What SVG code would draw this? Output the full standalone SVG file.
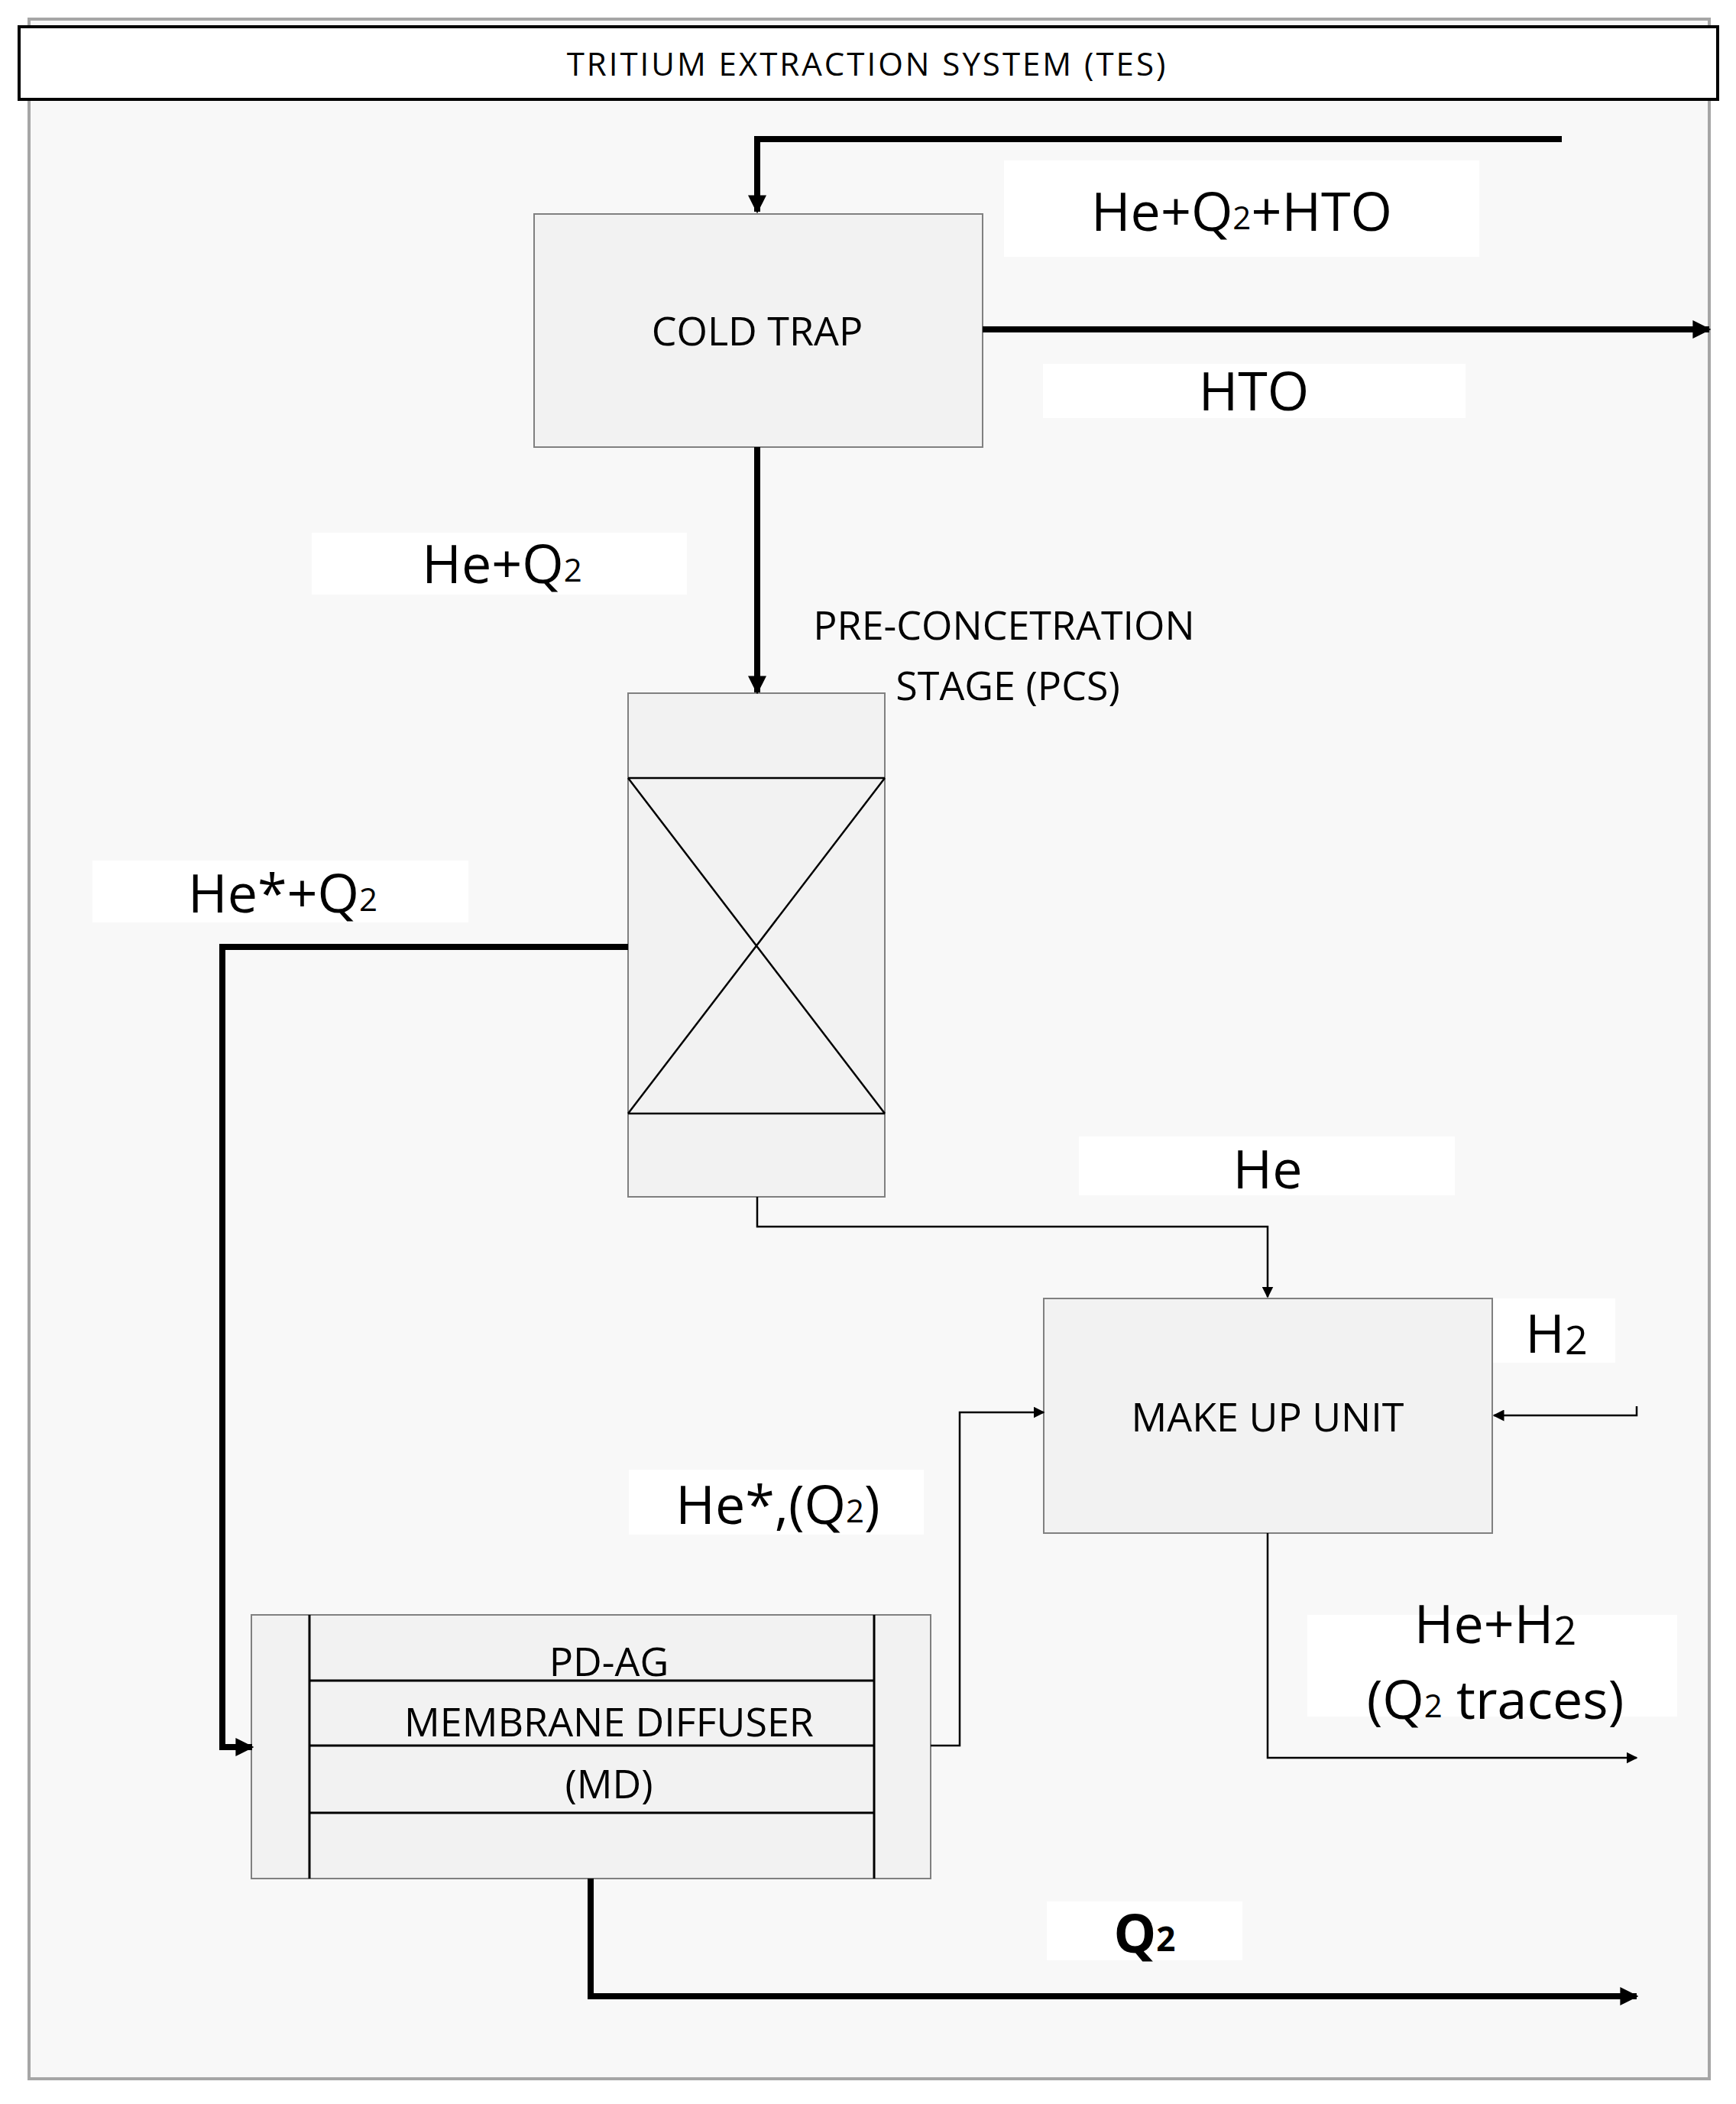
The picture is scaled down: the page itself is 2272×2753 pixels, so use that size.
<svg xmlns="http://www.w3.org/2000/svg" width="2272" height="2753" viewBox="0 0 2272 2753">
<style>
text{font-family:"Open Sans","Liberation Sans",sans-serif;fill:#000;text-anchor:middle;dominant-baseline:central}
.box{fill:#f2f2f2;stroke:#808080;stroke-width:2}
.lbl{fill:#fff;stroke:none}
.thick{fill:none;stroke:#000;stroke-width:8}
.thin{fill:none;stroke:#000;stroke-width:2.5}
.big{font-size:70px}
.mid{font-size:52px}
</style>
<defs>
<marker id="ah" viewBox="0 0 10 10" refX="9" refY="5" markerWidth="3" markerHeight="3" orient="auto" markerUnits="strokeWidth"><path d="M0,0L10,5L0,10z" fill="#000"/></marker>
<marker id="ahs" viewBox="0 0 10 10" refX="9" refY="5" markerWidth="6" markerHeight="6" orient="auto" markerUnits="strokeWidth"><path d="M0,0L10,5L0,10z" fill="#000"/></marker>
</defs>
<rect x="38" y="25" width="2199" height="2695" fill="#f8f8f8" stroke="#a6a6a6" stroke-width="4"/>
<g id="title"><rect x="25" y="35" width="2223" height="95" fill="#fff" stroke="#000" stroke-width="4"/><text x="1135" y="82" font-size="42" letter-spacing="3">TRITIUM EXTRACTION SYSTEM (TES)</text></g>
<g id="labels">
<rect class="lbl" x="1314" y="210" width="622" height="126"/><text class="big" x="1625" y="275">He+Q<tspan font-size="42" dy="8">2</tspan><tspan dy="-8">+HTO</tspan></text>
<rect class="lbl" x="1365" y="476" width="553" height="71"/><text class="big" x="1641" y="510">HTO</text>
<rect class="lbl" x="408" y="697" width="491" height="81"/><text class="big" x="657" y="736">He+Q<tspan font-size="42" dy="8">2</tspan></text>
<text class="mid" x="1314" y="816">PRE-CONCETRATION</text><text class="mid" x="1319" y="895">STAGE (PCS)</text>
<rect class="lbl" x="121" y="1126" width="492" height="81"/><text class="big" x="370" y="1167">He*+Q<tspan font-size="42" dy="8">2</tspan></text>
<rect class="lbl" x="1412" y="1487" width="492" height="77"/><text class="big" x="1659" y="1528">He</text>
<rect class="lbl" x="1953" y="1699" width="161" height="84"/><text class="big" x="2037" y="1743">H<tspan font-size="52" dy="8">2</tspan></text>
<rect class="lbl" x="823" y="1923" width="386" height="85"/><text class="big" x="1018" y="1967">He*,(Q<tspan font-size="42" dy="8">2</tspan><tspan dy="-8">)</tspan></text>
<rect class="lbl" x="1711" y="2113" width="484" height="133"/><text class="big" x="1957" y="2123">He+H<tspan font-size="52" dy="8">2</tspan></text><text class="big" x="1957" y="2222">(Q<tspan font-size="42" dy="8">2</tspan><tspan dy="-8"> traces)</tspan></text>
<rect class="lbl" x="1370" y="2488" width="256" height="77"/><text class="big" x="1498" y="2528" font-weight="bold" font-size="64">Q<tspan font-size="44" dy="8">2</tspan></text>
</g>
<g id="cold-trap"><rect class="box" x="699" y="280" width="587" height="305"/><text class="mid" x="991" y="431">COLD TRAP</text></g>
<g id="pcs"><rect class="box" x="822" y="907" width="336" height="659" stroke="#000" stroke-width="3"/><path d="M822 1018H1158M822 1457H1158M822 1018L1158 1457M1158 1018L822 1457" stroke="#000" stroke-width="2.5" fill="none"/></g>
<g id="make-up"><rect class="box" x="1366" y="1699" width="587" height="307"/><text class="mid" x="1659" y="1852">MAKE UP UNIT</text></g>
<g id="md"><rect class="box" x="329" y="2113" width="889" height="345" stroke="#000" stroke-width="3"/><path d="M405 2113V2458M1144 2113V2458M405 2199H1144M405 2284H1144M405 2372H1144" stroke="#000" stroke-width="3" fill="none"/>
<text class="mid" x="797" y="2172">PD-AG</text><text class="mid" x="797" y="2251">MEMBRANE DIFFUSER</text><text class="mid" x="797" y="2332">(MD)</text></g>
<g id="connectors">
<path class="thick" d="M2044 182H991V277" marker-end="url(#ah)"/>
<path class="thick" d="M1286 431H2237" marker-end="url(#ah)"/>
<path class="thick" d="M991 585V906" marker-end="url(#ah)"/>
<path class="thick" d="M822 1239H291V2286H330" marker-end="url(#ah)"/>
<path class="thin" d="M991 1566V1605H1659V1697" marker-end="url(#ahs)"/>
<path class="thin" d="M2142 1840V1852H1955" marker-end="url(#ahs)"/>
<path class="thin" d="M1218 2284H1256V1848H1366" marker-end="url(#ahs)"/>
<path class="thin" d="M1659 2006V2300H2142" marker-end="url(#ahs)"/>
<path class="thick" d="M773 2458V2612H2142" marker-end="url(#ah)"/>
</g>
</svg>
